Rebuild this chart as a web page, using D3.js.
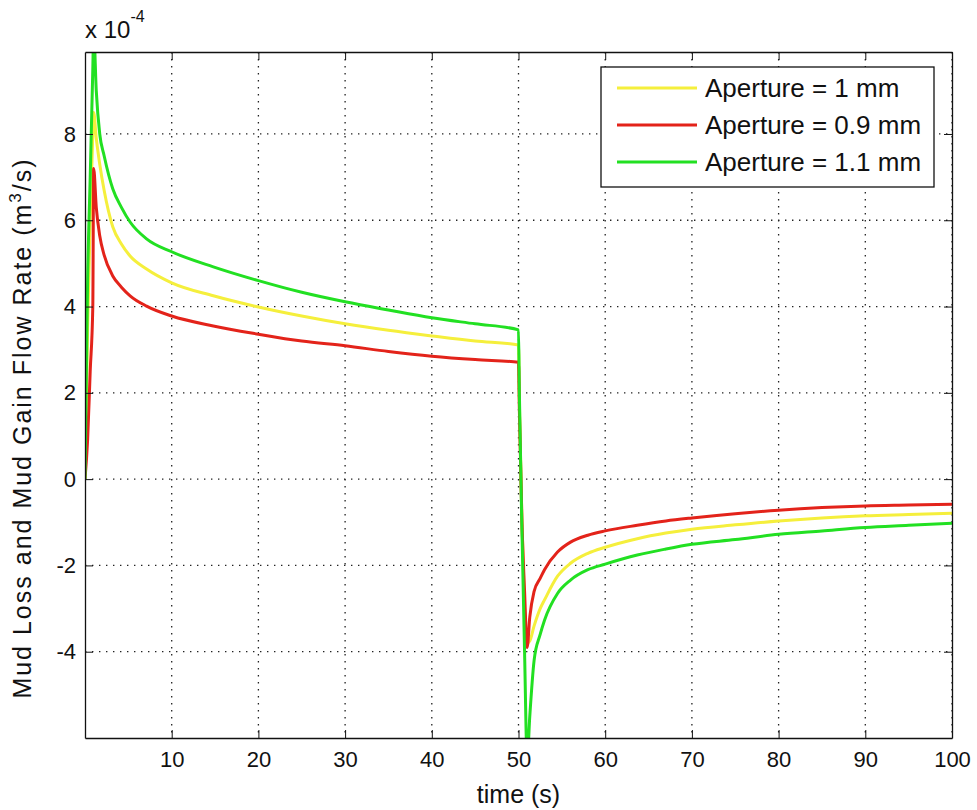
<!DOCTYPE html>
<html>
<head>
<meta charset="utf-8">
<script src="https://cdn.jsdelivr.net/npm/d3@7"></script>
<style>
  body { margin: 0; background: #fff; }
  text { font-family: "Liberation Sans", Arial, sans-serif; fill: #111; }
</style>
</head>
<body>
<div id="chart"></div>
<script>
// time samples (s) and flow rates (x 1e-4 m^3/s)
const time = [0, 0.3, 0.6, 0.9, 1.0, 1.3, 1.7, 2.2, 3.2, 4.2, 5.2, 7.1, 10, 14.8, 20, 25, 30, 35, 40, 45, 50,
  50.1, 50.4, 50.7, 51, 51.3, 51.8, 52.5, 53, 54.5, 56, 58, 60, 63.7, 67, 70, 75, 80, 85, 90, 95, 100];

const aperture_1 = [0, 3.5, 6.0, 8.0, 8.5, 7.9, 7.3, 6.7, 5.85, 5.45, 5.17, 4.87, 4.55, 4.25, 3.99, 3.78, 3.6, 3.45, 3.32, 3.2, 3.11,
  1.8, -1.0, -3.0, -3.8, -3.75, -3.4, -3.0, -2.8, -2.25, -1.95, -1.72, -1.58, -1.38, -1.25, -1.16, -1.06, -0.97, -0.9, -0.85, -0.82, -0.79];

const aperture_09 = [0, 0.9, 2.5, 4.0, 7.2, 6.3, 5.64, 5.2, 4.71, 4.45, 4.25, 4.01, 3.78, 3.55, 3.36, 3.2, 3.09, 2.96, 2.85, 2.77, 2.71,
  1.6, -1.0, -2.6, -3.9, -3.2, -2.6, -2.3, -2.1, -1.69, -1.46, -1.3, -1.2, -1.07, -0.97, -0.9, -0.8, -0.72, -0.66, -0.62, -0.6, -0.58];

const aperture_11 = [0, 4.6, 7.0, 9.5, 10.4, 9.0, 8.0, 7.5, 6.73, 6.3, 5.96, 5.57, 5.27, 4.92, 4.6, 4.33, 4.11, 3.92, 3.74, 3.6, 3.46,
  2.0, -1.2, -4.0, -6.5, -5.5, -4.2, -3.6, -3.27, -2.65, -2.34, -2.1, -1.97, -1.76, -1.62, -1.51, -1.4, -1.28, -1.2, -1.12, -1.07, -1.02];

const legendLabels = ["Aperture = 1 mm", "Aperture = 0.9 mm", "Aperture = 1.1 mm"];
const xTicks = [10, 20, 30, 40, 50, 60, 70, 80, 90, 100];
const yTicks = [-4, -2, 0, 2, 4, 6, 8];

const series = [
  {name: legendLabels[0], values: aperture_1, color: "#f5ef3c"},
  {name: legendLabels[1], values: aperture_09, color: "#e3231a"},
  {name: legendLabels[2], values: aperture_11, color: "#22e022"}
];

const W = 977, H = 810;
const margin = {top: 52, right: 25, bottom: 72, left: 85};
const width = W - margin.left - margin.right,
      height = H - margin.top - margin.bottom;

const svg = d3.select("#chart").append("svg")
  .attr("width", W).attr("height", H);
const g = svg.append("g")
  .attr("transform", `translate(${margin.left},${margin.top})`);

const x = d3.scaleLinear().domain([0, 100]).range([0, width]);
const y = d3.scaleLinear().domain([-6, 9.9]).range([height, 0]);

// dotted grid
const grid = g.append("g").attr("stroke", "#222").attr("stroke-width", 1.3)
  .attr("stroke-dasharray", "1.4,5.6");
grid.selectAll(".gx").data(xTicks).join("line")
  .attr("x1", d => x(d)).attr("x2", d => x(d)).attr("y1", 0).attr("y2", height);
grid.selectAll(".gy").data(yTicks).join("line")
  .attr("y1", d => y(d)).attr("y2", d => y(d)).attr("x1", 0).attr("x2", width);

// curves
g.append("clipPath").attr("id", "clip").append("rect")
  .attr("width", width).attr("height", height);
const line = d3.line().x((d, i) => x(time[i])).y(d => y(d)).curve(d3.curveMonotoneX);
g.append("g").attr("clip-path", "url(#clip)")
  .selectAll("path").data(series).join("path")
  .attr("fill", "none")
  .attr("stroke", d => d.color)
  .attr("stroke-width", 3)
  .attr("stroke-linejoin", "round")
  .attr("d", d => line(d.values));

// axes, ticks pointing inward
const fmt = d => String(d);
g.append("g").attr("transform", `translate(0,${height})`)
  .call(d3.axisBottom(x).tickValues(xTicks).tickFormat(fmt).tickSize(-8).tickSizeOuter(0).tickPadding(13));
g.append("g")
  .call(d3.axisLeft(y).tickValues(yTicks).tickFormat(fmt).tickSize(-8).tickSizeOuter(0).tickPadding(9));
g.append("g")
  .call(d3.axisTop(x).tickValues(xTicks).tickSize(-8).tickSizeOuter(0).tickFormat(""));
g.append("g").attr("transform", `translate(${width},0)`)
  .call(d3.axisRight(y).tickValues(yTicks).tickSize(-8).tickSizeOuter(0).tickFormat(""));
g.selectAll(".domain").attr("stroke", "#111").attr("stroke-width", 1.3);
g.selectAll(".tick line").attr("stroke", "#111");
g.selectAll(".tick text").attr("font-size", 22)
  .attr("font-family", "Liberation Sans, Arial, sans-serif").attr("fill", "#111");

// exponent label
const expo = svg.append("text").attr("x", 85).attr("y", 38).attr("font-size", 24);
expo.append("tspan").text("x 10");
expo.append("tspan").attr("font-size", 16).attr("dy", -16).text("-4");

// axis labels
svg.append("text").attr("x", margin.left + width / 2).attr("y", 803)
  .attr("text-anchor", "middle").attr("font-size", 25).text("time (s)");

const ylab = svg.append("text")
  .attr("transform", "translate(31,428) rotate(-90)")
  .attr("text-anchor", "middle").attr("font-size", 25)
  .attr("letter-spacing", 2);
ylab.append("tspan").text("Mud Loss and Mud Gain Flow Rate (m");
ylab.append("tspan").attr("font-size", 17).attr("dy", -10).text("3");
ylab.append("tspan").attr("dy", 10).text("/s)");

// legend
const lg = svg.append("g");
lg.append("rect").attr("x", 601).attr("y", 67).attr("width", 333).attr("height", 120)
  .attr("fill", "#fff").attr("stroke", "#111").attr("stroke-width", 1.3);
const rowY = d3.scalePoint().domain(legendLabels).range([88, 162]);
const items = lg.selectAll(".item").data(series).join("g")
  .attr("transform", d => `translate(0,${rowY(d.name)})`);
items.append("line").attr("x1", 617).attr("x2", 697)
  .attr("stroke", d => d.color).attr("stroke-width", 3);
items.append("text").attr("x", 705).attr("dy", "0.36em")
  .attr("font-size", 26).text(d => d.name);
</script>
</body>
</html>
